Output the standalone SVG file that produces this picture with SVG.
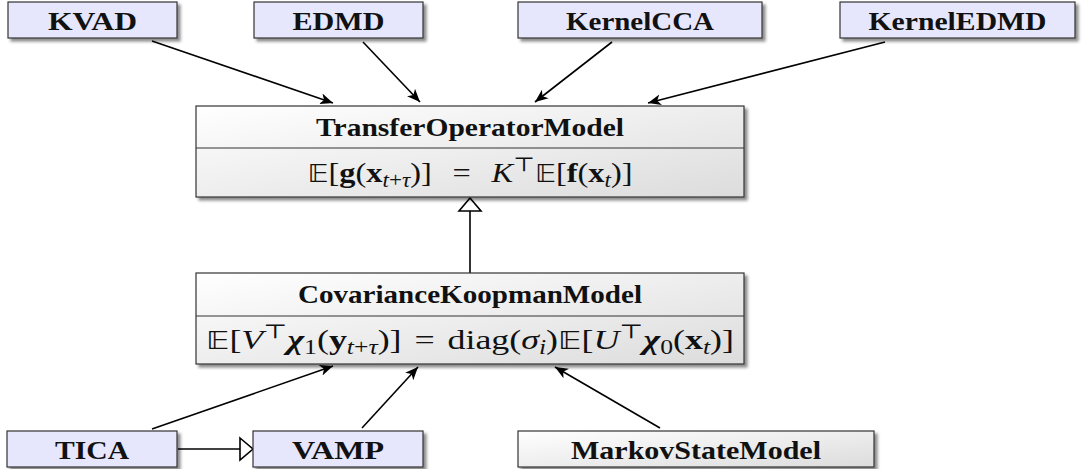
<svg xmlns="http://www.w3.org/2000/svg" width="1083" height="469" viewBox="0 0 1083 469">
<defs>
<style>
.box{fill:#e6e6fc;stroke:#333;stroke-width:1.2;filter:url(#sh)}
.cls{fill:url(#gr);stroke:#333;stroke-width:1.2;filter:url(#sh)}
.div{stroke:#333;stroke-width:1.2}
.t{font-family:"Liberation Serif",serif;font-weight:bold;font-size:25px;fill:#111;text-anchor:middle}
.m{font-family:"Liberation Serif","DejaVu Serif",serif;font-size:28px;fill:#111;text-anchor:middle}
.i{font-style:italic}
.b{font-weight:bold}
.s{font-size:20px}
.bb{font-family:"DejaVu Sans",sans-serif;font-size:25px}
.c{fill:none;stroke:#000;stroke-width:1.6}
</style>
<filter id="sh" x="-5%" y="-20%" width="115%" height="150%">
<feDropShadow dx="3" dy="3" stdDeviation="1.6" flood-color="#000" flood-opacity="0.45"/>
</filter>
<linearGradient id="gr" x1="0" y1="0" x2="1" y2="1">
<stop offset="0" stop-color="#ffffff"/>
<stop offset="1" stop-color="#dcdcdc"/>
</linearGradient>
<marker id="ar" markerUnits="userSpaceOnUse" markerWidth="14" markerHeight="12" viewBox="0 0 14 12" refX="13" refY="6" orient="auto">
<path d="M0,0.5 L13,6 L0,11.5 L3.5,6 z" fill="#000"/>
</marker>
<marker id="tri" markerUnits="userSpaceOnUse" markerWidth="16" markerHeight="26" viewBox="0 0 16 26" refX="14" refY="13" orient="auto">
<path d="M1,2 L14,13 L1,24 z" fill="#fff" stroke="#000" stroke-width="1.6"/>
</marker>
</defs>
<rect width="1083" height="469" fill="#fff"/>

<g id="connectors">
<path class="c" marker-end="url(#ar)" d="M152,41 L333,103"/>
<path class="c" marker-end="url(#ar)" d="M363,42 L420,102"/>
<path class="c" marker-end="url(#ar)" d="M612,42 L535,102"/>
<path class="c" marker-end="url(#ar)" d="M885,42 L648,103"/>
<path class="c" marker-end="url(#tri)" d="M470,273 L470,198"/>
<path class="c" marker-end="url(#ar)" d="M152,429 L333,366"/>
<path class="c" marker-end="url(#ar)" d="M362,428 L418,367"/>
<path class="c" marker-end="url(#ar)" d="M660,428 L555,367"/>
<path class="c" marker-end="url(#tri)" d="M178,449 L253,449"/>
</g>

<g id="KVAD">
<rect class="box" x="8" y="2" width="169" height="36"/>
<text class="t" x="92.5" y="30" textLength="89" lengthAdjust="spacingAndGlyphs">KVAD</text>
</g>
<g id="EDMD">
<rect class="box" x="254" y="2" width="169" height="36"/>
<text class="t" x="338.5" y="30" textLength="92" lengthAdjust="spacingAndGlyphs">EDMD</text>
</g>
<g id="KernelCCA">
<rect class="box" x="518" y="2" width="244" height="36"/>
<text class="t" x="640" y="30" textLength="148" lengthAdjust="spacingAndGlyphs">KernelCCA</text>
</g>
<g id="KernelEDMD">
<rect class="box" x="840" y="2" width="235" height="36"/>
<text class="t" x="957.5" y="30" textLength="178" lengthAdjust="spacingAndGlyphs">KernelEDMD</text>
</g>

<g id="TransferOperatorModel">
<rect class="cls" x="196" y="106" width="548" height="91"/>
<line class="div" x1="196" y1="148" x2="744" y2="148"/>
<text class="t" x="470" y="136" textLength="308" lengthAdjust="spacingAndGlyphs">TransferOperatorModel</text>
<text class="m" x="470" y="182" textLength="325" lengthAdjust="spacingAndGlyphs"><tspan class="bb">𝔼</tspan>[<tspan class="b">g</tspan>(<tspan class="b">x</tspan><tspan class="s i" dy="5">t</tspan><tspan class="s">+</tspan><tspan class="s i">τ</tspan><tspan dy="-5">)]</tspan><tspan dx="18">=</tspan><tspan class="i" dx="18">K</tspan><tspan class="s" dy="-11">⊤</tspan><tspan class="bb" dy="11">𝔼</tspan>[<tspan class="b">f</tspan>(<tspan class="b">x</tspan><tspan class="s i" dy="5">t</tspan><tspan dy="-5">)]</tspan></text>
</g>

<g id="CovarianceKoopmanModel">
<rect class="cls" x="196" y="273" width="548" height="91"/>
<line class="div" x1="196" y1="316" x2="744" y2="316"/>
<text class="t" x="470" y="303" textLength="344" lengthAdjust="spacingAndGlyphs">CovarianceKoopmanModel</text>
<text class="m" x="470" y="349" textLength="528" lengthAdjust="spacingAndGlyphs"><tspan class="bb">𝔼</tspan>[<tspan class="i">V</tspan><tspan class="s" dy="-11">⊤</tspan><tspan class="b i" dy="11">χ</tspan><tspan class="s" dy="5">1</tspan><tspan dy="-5">(</tspan><tspan class="b">y</tspan><tspan class="s i" dy="5">t</tspan><tspan class="s">+</tspan><tspan class="s i">τ</tspan><tspan dy="-5">)]</tspan><tspan dx="10">=</tspan><tspan dx="10">diag(</tspan><tspan class="i">σ</tspan><tspan class="s i" dy="5">i</tspan><tspan dy="-5">)</tspan><tspan class="bb">𝔼</tspan>[<tspan class="i">U</tspan><tspan class="s" dy="-11">⊤</tspan><tspan class="b i" dy="11">χ</tspan><tspan class="s" dy="5">0</tspan><tspan dy="-5">(</tspan><tspan class="b">x</tspan><tspan class="s i" dy="5">t</tspan><tspan dy="-5">)]</tspan></text>
</g>

<g id="TICA">
<rect class="box" x="7" y="431" width="170" height="36"/>
<text class="t" x="92" y="459" textLength="74" lengthAdjust="spacingAndGlyphs">TICA</text>
</g>
<g id="VAMP">
<rect class="box" x="253" y="431" width="170" height="36"/>
<text class="t" x="338" y="459" textLength="92" lengthAdjust="spacingAndGlyphs">VAMP</text>
</g>
<g id="MarkovStateModel">
<rect class="cls" x="518" y="431" width="356" height="36"/>
<text class="t" x="696" y="459" textLength="250" lengthAdjust="spacingAndGlyphs">MarkovStateModel</text>
</g>
</svg>
